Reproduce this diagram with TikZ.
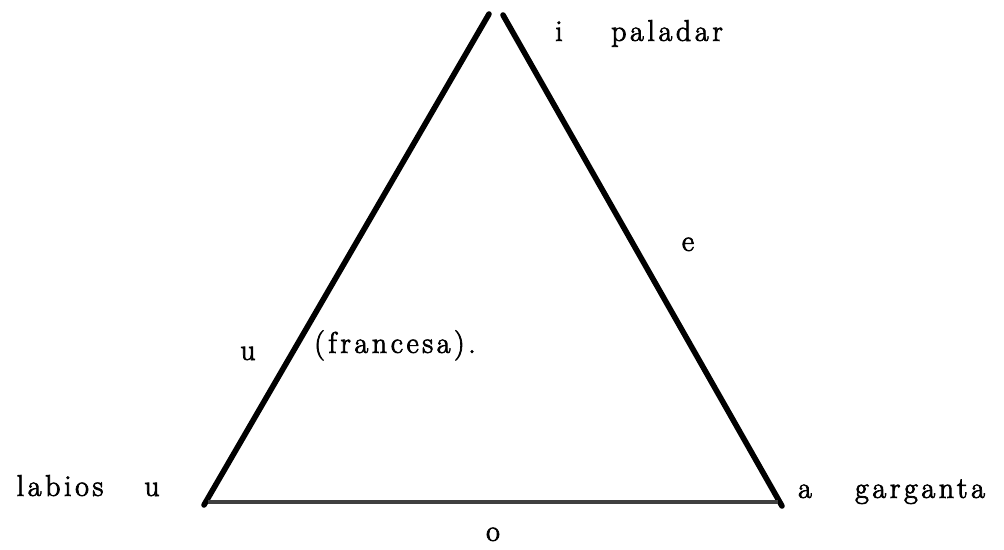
\documentclass[tikz,border=0pt]{standalone}
\usepackage{fontspec}
\setmainfont{Latin Modern Roman}[LetterSpace=12,FakeBold=2.5]
\begin{document}
\begin{tikzpicture}[x=0.75pt,y=-0.75pt,
  lbl/.style={font=\fontsize{22.5}{26}\selectfont, inner sep=0pt, anchor=mid},
  side/.style={line width=4.2pt, line cap=round},
  basel/.style={line width=2.4pt, black!75}]
\useasboundingbox (0,0) rectangle (1004,550);
\coordinate (apexL) at (489,14);
\coordinate (apexR) at (503,15);
\coordinate (bl) at (204,505);
\coordinate (br) at (782,506);
\coordinate (bl2) at (208,502);
\coordinate (br2) at (778,502);
\draw[side] (apexL) -- (bl);
\draw[side] (apexR) -- (br);
\draw[basel] (bl2) -- (br2);
\node[lbl] (i) at (559,38) {i};
\node[lbl] (paladar) at (667,38) {paladar};
\node[lbl] (e) at (688,248) {e};
\node[lbl] (u1) at (248,357) {u};
\node[lbl] (fr) at (395,350) {(francesa).};
\node[lbl] (labios) at (60,493) {labios};
\node[lbl] (u2) at (152,493) {u};
\node[lbl] (a) at (805,495) {a};
\node[lbl] (garganta) at (920,495) {garganta};
\node[lbl] (o) at (493,538) {o};
\end{tikzpicture}
\end{document}
